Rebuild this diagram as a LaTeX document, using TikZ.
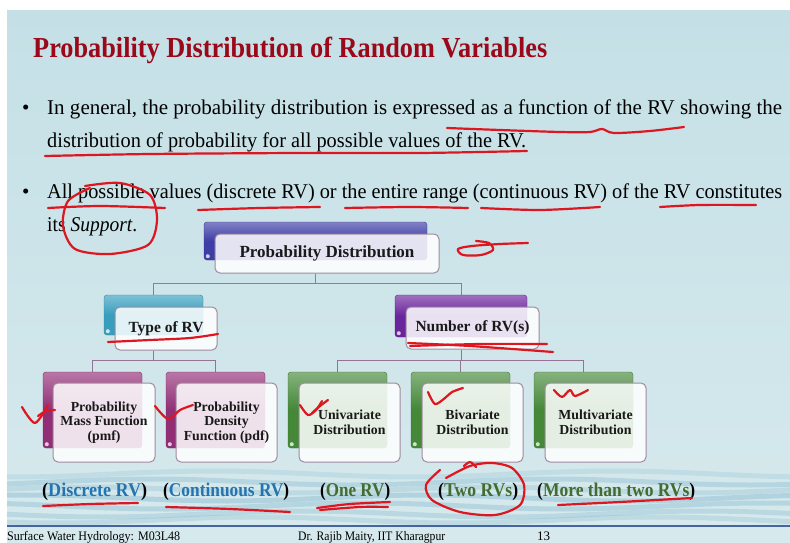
\documentclass[tikz,border=0pt]{standalone}
\usepackage{fontspec}
\setmainfont{Liberation Serif}
\usetikzlibrary{calc}
\definecolor{bgtop}{RGB}{196,224,230}
\definecolor{bgbot}{RGB}{214,233,237}
\definecolor{wave}{RGB}{135,186,206}
\definecolor{footline}{RGB}{70,100,160}
\definecolor{titlered}{RGB}{155,8,25}
\definecolor{annored}{RGB}{222,22,32}
\definecolor{cblue}{RGB}{62,62,166}
\definecolor{cteal}{RGB}{56,158,190}
\definecolor{cpurple}{RGB}{106,36,156}
\definecolor{cmagenta}{RGB}{146,46,118}
\definecolor{cgreen}{RGB}{68,136,56}
\definecolor{frameline}{RGB}{160,138,160}
\definecolor{conntop}{RGB}{90,150,160}
\definecolor{connlow}{RGB}{150,115,150}
\definecolor{lblue}{RGB}{36,116,176}
\definecolor{lgreen}{RGB}{66,108,48}
\pgfdeclarelayer{bg}
\pgfsetlayers{bg,main}
\tikzset{
  backbox/.style={rectangle, rounded corners=3pt, inner sep=0pt,
    top color=#1!65!white, bottom color=#1, middle color=#1, draw=#1!85!black, line width=0.4pt},
  frontbox/.style={rectangle, rounded corners=5pt, inner sep=0pt, draw=frameline, line width=1pt,
    fill=white, fill opacity=0.86, text opacity=1, align=center, text=black!90},
  lvlone/.style={font=\fontsize{17}{20}\selectfont\bfseries},
  lvltwo/.style={font=\fontsize{15.5}{18}\selectfont\bfseries},
  lvlthree/.style={font=\fontsize{13.8}{14.5}\selectfont\bfseries},
  connA/.style={draw=conntop, line width=1pt},
  connB/.style={draw=connlow, line width=1pt},
  redmark/.style={draw=annored, line width=2.2pt, line cap=round, line join=round},
  bodytext/.style={anchor=base west, inner sep=0pt, font=\fontsize{21}{25}\selectfont},
  lbl/.style={anchor=base west, inner sep=0pt, font=\fontsize{19.5}{23}\selectfont\bfseries},
  foot/.style={anchor=base west, inner sep=0pt, font=\fontsize{13}{16}\selectfont},
  dot/.style={fill=white, fill opacity=0.75, circle, inner sep=0pt, minimum size=4pt}
}
\begin{document}
\begin{tikzpicture}[x=1pt,y=-1pt]
\useasboundingbox (0,0) rectangle (790,543);
\begin{pgfonlayer}{bg}
\fill[white] (0,0) rectangle (790,543);
\shade[top color=bgtop, bottom color=bgbot] (7,11) rectangle (790,526);
\fill[bgbot] (7,526) rectangle (790,543);
% wave band
\foreach \yy/\op in {474/0.25,482/0.4,490/0.3,498/0.45,506/0.4,514/0.35,520/0.3}{
  \draw[wave, line width=5pt, opacity=\op]
    plot[smooth, domain=7:790, samples=40] (\x, {\yy + 3*sin(\x*0.9 + \yy*7)});
}
\draw[footline, line width=1.6pt] (7,526) -- (790,526);
\end{pgfonlayer}

% title
\node[anchor=base west, inner sep=0pt, text=titlered] (title) at (33,57)
  {\resizebox{514pt}{\height}{\fontsize{29}{34}\selectfont\bfseries Probability Distribution of Random Variables}};

% bullets
\node[bodytext] (b1) at (22,114) {\textbullet};
\node[bodytext] (l1) at (47,114) {\resizebox{735pt}{\height}{In general, the probability distribution is expressed as a function of the RV showing the}};
\node[bodytext] (l2) at (47,147) {\resizebox{479pt}{\height}{distribution of probability for all possible values of the RV.}};
\node[bodytext] (b2) at (22,198) {\textbullet};
\node[bodytext] (l3) at (47,198) {\resizebox{735pt}{\height}{All possible values (discrete RV) or the entire range (continuous RV) of the RV constitutes}};
\node[bodytext] (l4) at (47,231) {\resizebox{90pt}{\height}{its \textit{Support}.}};

% tree: back shapes
\node[backbox=cblue, minimum width=223pt, minimum height=38pt] (pdB) at (315.5,241) {};
\node[backbox=cteal, minimum width=99pt, minimum height=40pt] (tyB) at (153.5,315) {};
\node[backbox=cpurple, minimum width=132pt, minimum height=42pt] (nuB) at (461,316) {};
\node[backbox=cmagenta, minimum width=99pt, minimum height=76pt] (pmB) at (92.5,410) {};
\node[backbox=cmagenta, minimum width=99pt, minimum height=76pt] (pdfB) at (215.5,410) {};
\node[backbox=cgreen, minimum width=99pt, minimum height=76pt] (unB) at (337.5,410) {};
\node[backbox=cgreen, minimum width=99pt, minimum height=76pt] (biB) at (460.5,410) {};
\node[backbox=cgreen, minimum width=99pt, minimum height=76pt] (muB) at (583.5,410) {};
\foreach \n in {pdB,tyB,nuB,pmB,pdfB,unB,biB,muB}{
  \node[dot] at ($(\n.south west)+(4,-4)$) {};
}

% tree: front boxes
\node[frontbox, lvlone, minimum width=224pt, minimum height=39pt] (pdF) at (327,253.5) {Probability Distribution};
\node[frontbox, lvltwo, minimum width=102pt, minimum height=43pt] (tyF) at (166,328.5) {Type of RV};
\node[frontbox, lvltwo, minimum width=133pt, minimum height=42pt] (nuF) at (472.5,328) {Number of RV(s)};
\node[frontbox, lvlthree, minimum width=102pt, minimum height=79pt] (pmF) at (104,422.5) {Probability\\Mass Function\\(pmf)};
\node[frontbox, lvlthree, minimum width=101pt, minimum height=79pt] (pdfF) at (226.5,422.5) {Probability\\Density\\Function (pdf)};
\node[frontbox, lvlthree, minimum width=101pt, minimum height=79pt] (unF) at (349.5,422.5) {Univariate\\Distribution};
\node[frontbox, lvlthree, minimum width=101pt, minimum height=79pt] (biF) at (472.5,422.5) {Bivariate\\Distribution};
\node[frontbox, lvlthree, minimum width=101pt, minimum height=79pt] (muF) at (595.5,422.5) {Multivariate\\Distribution};

% connectors
\begin{pgfonlayer}{bg}
\draw[connA] (pdB.south |- pdF.south) -- ++(0,10) -| (tyB.north);
\draw[connA] (pdB.south |- pdF.south) -- ++(0,10) -| (nuB.north);
\draw[connB] (tyB.south |- tyF.south) -- ++(0,10) -| (pmB.north);
\draw[connB] (tyB.south |- tyF.south) -- ++(0,10) -| (pdfB.north);
\draw[connB] (nuB.south |- nuF.south) -- ++(0,11) -| (unB.north);
\draw[connB] (nuB.south |- nuF.south) -- ++(0,11) -| (biB.north);
\draw[connB] (nuB.south |- nuF.south) -- ++(0,11) -| (muB.north);
\end{pgfonlayer}

% bottom labels
\node[lbl] (lab1) at (42,496) {\resizebox{105pt}{\height}{(\textcolor{lblue}{Discrete RV})}};
\node[lbl] (lab2) at (163,496) {\resizebox{126pt}{\height}{(\textcolor{lblue}{Continuous RV})}};
\node[lbl] (lab3) at (320,496) {\resizebox{70pt}{\height}{(\textcolor{lgreen}{One RV})}};
\node[lbl] (lab4) at (438,496) {\resizebox{80pt}{\height}{(\textcolor{lgreen}{Two RVs})}};
\node[lbl] (lab5) at (537,496) {\resizebox{158pt}{\height}{(\textcolor{lgreen}{More than two RVs})}};

% footer
\node[foot] (f1) at (7,540) {\resizebox{173pt}{\height}{Surface Water Hydrology: M03L48}};
\node[foot] (f2) at (298,540) {\resizebox{147pt}{\height}{Dr. Rajib Maity, IIT Kharagpur}};
\node[foot] (f3) at (537,540) {13};

% hand annotations
\draw[redmark] plot[smooth] coordinates {(447,128) (500,130) (560,132) (590,132) (602,129) (614,133) (650,131) (684,127)};
\draw[redmark] plot[smooth] coordinates {(45,156) (150,154) (300,153) (420,153) (527,151)};
\draw[redmark] plot[smooth] coordinates {(48,208) (100,206) (165,208)};
\draw[redmark] plot[smooth] coordinates {(198,210) (260,208) (320,207)};
\draw[redmark] plot[smooth] coordinates {(345,208) (410,207) (468,208)};
\draw[redmark] plot[smooth] coordinates {(481,208) (540,210) (600,207)};
\draw[redmark] plot[smooth] coordinates {(660,207) (700,205) (756,205)};
\draw[redmark] plot[smooth] coordinates {(85,186) (120,183) (150,195) (157,220) (148,245) (110,254) (75,249) (63,226) (68,201) (90,188)};
\draw[redmark] plot[smooth] coordinates {(528,243) (500,244) (472,246) (458,249) (463,255) (481,255) (493,250) (489,243) (476,241)};
\draw[redmark] plot[smooth] coordinates {(108,342) (150,340) (190,338) (218,334)};
\draw[redmark] plot[smooth] coordinates {(408,343) (470,346) (553,352)};
\draw[redmark] plot[smooth] coordinates {(410,346) (480,344) (547,344)};
\draw[redmark] plot[smooth] coordinates {(22,407) (35,423) (48,405)};
\draw[redmark] plot[smooth] coordinates {(38,416) (46,411) (55,410)};
\draw[redmark] plot[smooth] coordinates {(155,406) (168,419) (180,410) (193,405)};
\draw[redmark] plot[smooth] coordinates {(300,405) (308,415) (316,410) (322,401)};
\draw[redmark] plot[smooth] coordinates {(312,413) (320,406) (328,400)};
\draw[redmark] plot[smooth] coordinates {(428,392) (435,404) (445,398) (452,392) (463,388)};
\draw[redmark] plot[smooth] coordinates {(554,390) (562,397) (570,390) (575,396) (588,390)};
\draw[redmark] plot[smooth] coordinates {(43,506) (90,504) (138,503)};
\draw[redmark] plot[smooth] coordinates {(166,507) (230,509) (290,512)};
\draw[redmark] plot[smooth] coordinates {(317,508) (350,504) (390,502)};
\draw[redmark] plot[smooth] coordinates {(320,510) (360,507) (388,507)};
\draw[redmark] plot[smooth] coordinates {(446,478) (470,466) (492,463) (512,468) (524,485) (520,505) (495,515) (460,512) (432,500) (426,485) (440,470)};
\draw[redmark] plot[smooth] coordinates {(464,466) (470,462) (476,467)};
\draw[redmark] plot[smooth] coordinates {(558,505) (620,502) (692,498)};
\end{tikzpicture}
\end{document}
